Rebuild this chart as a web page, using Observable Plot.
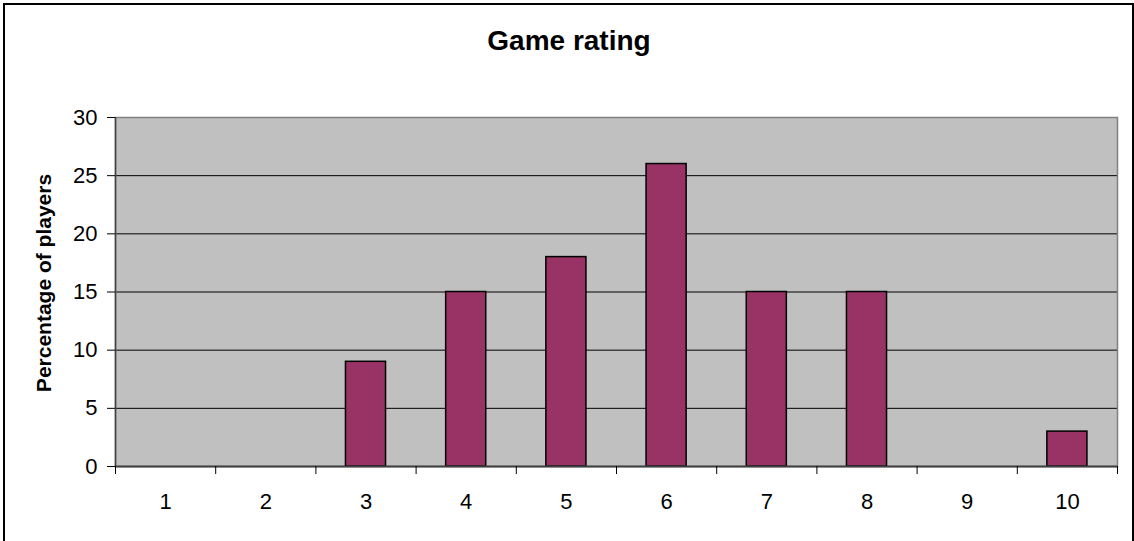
<!DOCTYPE html>
<html>
<head>
<meta charset="utf-8">
<script src="https://cdn.jsdelivr.net/npm/d3@7"></script>
<script src="https://cdn.jsdelivr.net/npm/@observablehq/plot@0.6"></script>
<style>
  html, body { margin: 0; padding: 0; background: #fff; }
  #wrap { position: relative; width: 1134px; height: 541px; overflow: hidden; font-family: "Liberation Sans", Arial, sans-serif; }
  #border { position: absolute; left: 3px; top: 3px; width: 1127px; height: 560px; border: 2px solid #000; box-sizing: content-box; }
  #title { position: absolute; left: 0; top: 0; width: 1138px; height: 70px; text-align: center; font-weight: bold; font-size: 28px; line-height: 28px; padding-top: 27px; box-sizing: border-box; color: #000; }
  #chart { position: absolute; left: 0; top: 70px; }
</style>
</head>
<body>
<div id="wrap">
  <div id="border"></div>
  <div id="title">Game rating</div>
  <div id="chart"></div>
</div>
<script>
const ratings = [1, 2, 3, 4, 5, 6, 7, 8, 9, 10];
const percentages = [0, 0, 9, 15, 18, 26, 15, 15, 0, 3];
const yTicks = [0, 5, 10, 15, 20, 25, 30];
const yLabel = "Percentage of players";

const data = ratings.map((r, i) => ({rating: r, value: percentages[i]}));
const bounds = d3.range(0.5, 11, 1);
const barHalf = 0.2;

const font = "Liberation Sans, Arial, sans-serif";

const chart = Plot.plot({
  width: 1134,
  height: 471,
  marginLeft: 115,
  marginRight: 17,
  marginTop: 47,
  marginBottom: 75,
  style: {fontFamily: font, fontSize: "22px", color: "#000", background: "transparent"},
  x: {type: "linear", domain: [0.5, 10.5]},
  y: {domain: [0, 30]},
  marks: [
    Plot.frame({fill: "#C0C0C0", stroke: "none"}),
    Plot.gridY(yTicks.filter(t => t > 0 && t < 30), {stroke: "#000", strokeOpacity: 1, strokeWidth: 1}),
    Plot.frame({stroke: "#808080", strokeWidth: 1.5}),
    Plot.rectY(data.filter(d => d.value > 0), {
      x1: d => d.rating - barHalf,
      x2: d => d.rating + barHalf,
      y1: 0,
      y2: "value",
      fill: "#993366",
      stroke: "#000",
      strokeWidth: 1.5
    }),
    Plot.ruleY([0], {stroke: "#404040", strokeWidth: 2}),
    Plot.ruleX([0.5], {stroke: "#404040", strokeWidth: 1.5}),
    Plot.axisY({ticks: yTicks, tickSize: 8, tickPadding: 10, label: null, fontSize: 22}),
    Plot.axisX({ticks: bounds, tickSize: 8, tickFormat: () => "", label: null}),
    Plot.axisX({ticks: ratings, tickSize: 0, tickPadding: 27, label: null, fontSize: 22}),
    Plot.text([yLabel], {
      frameAnchor: "left",
      textAnchor: "middle",
      rotate: -90,
      dx: -71,
      dy: -9,
      fontSize: 21,
      fontWeight: "bold",
      fill: "#000"
    })
  ]
});
document.getElementById("chart").appendChild(chart);
</script>
</body>
</html>
